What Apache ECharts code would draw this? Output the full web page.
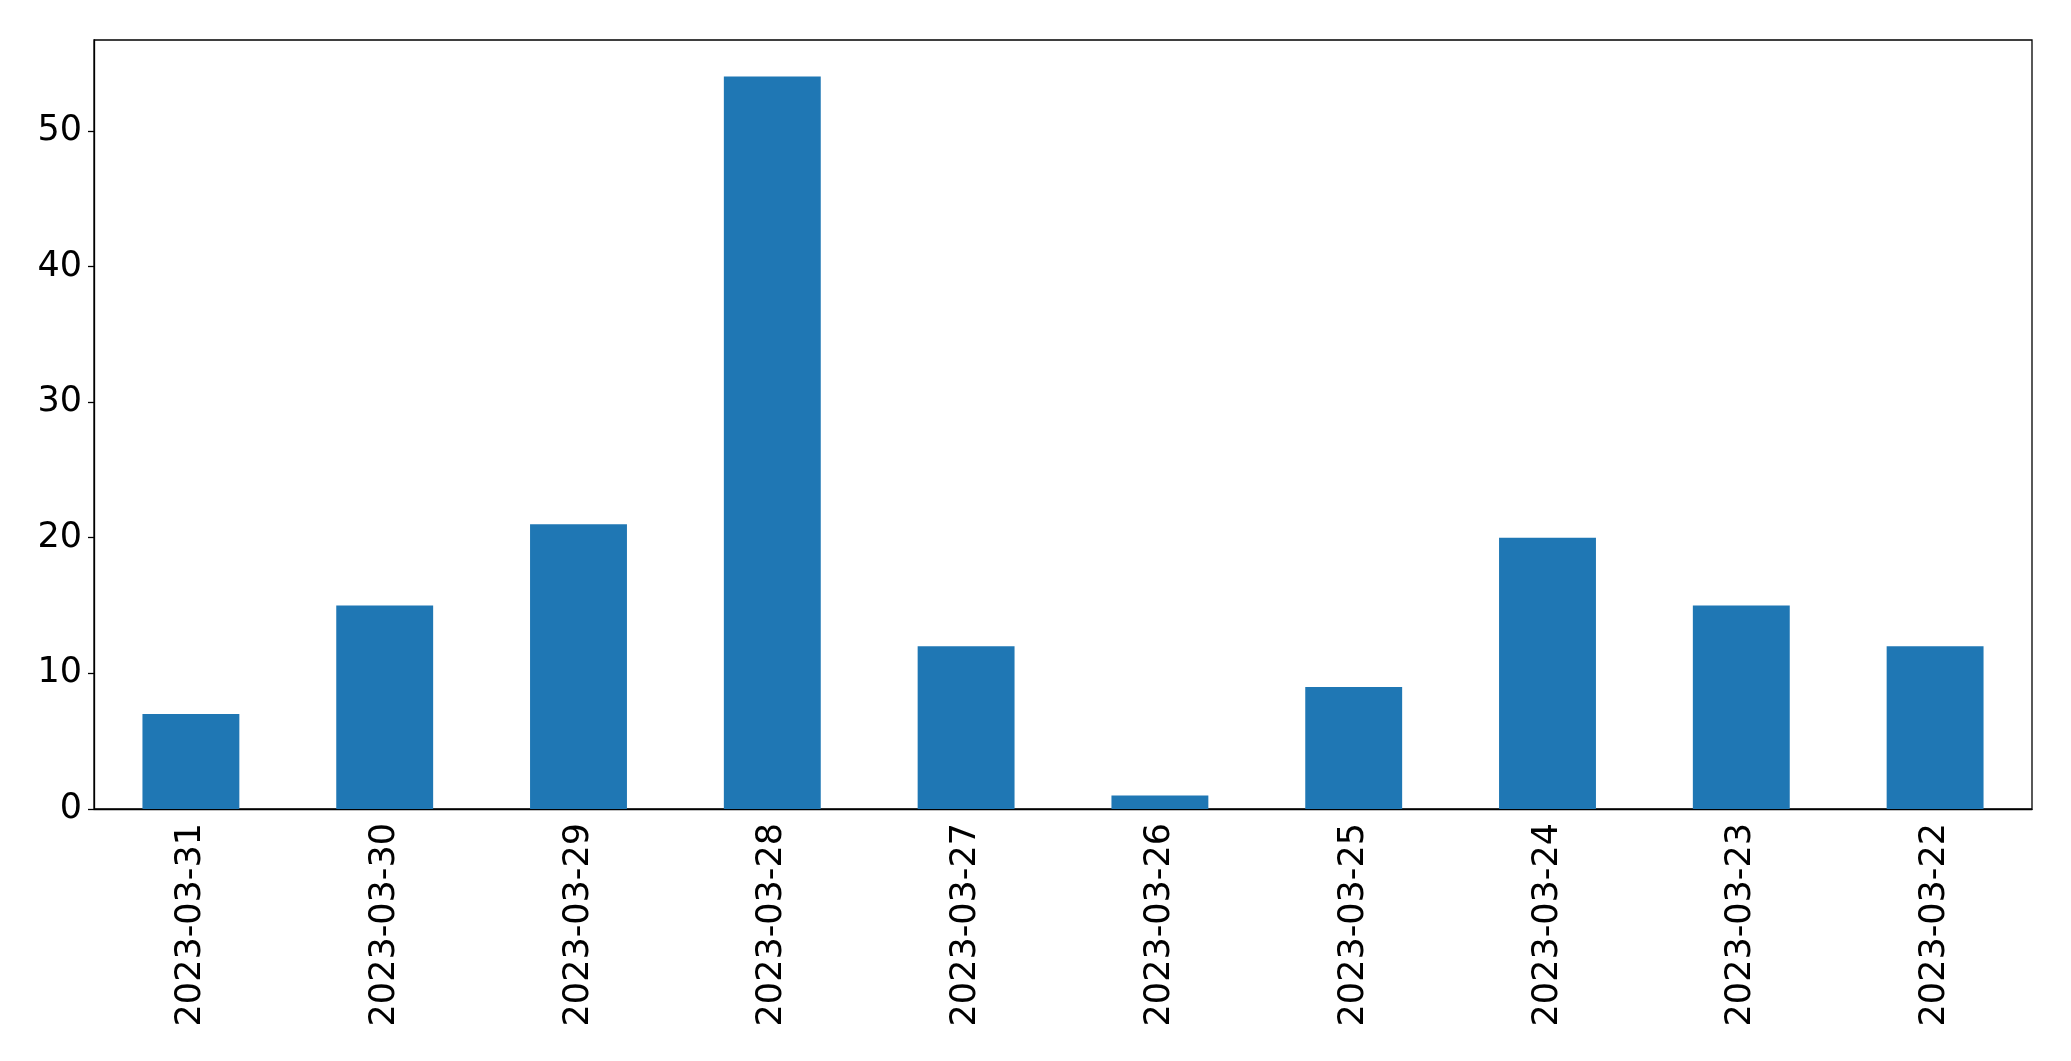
<!DOCTYPE html>
<html><head><meta charset="utf-8">
<script src="https://cdn.jsdelivr.net/npm/echarts@6/dist/echarts.min.js"></script>
<style>html,body{margin:0;padding:0;background:#fff}#c{width:2071px;height:1061px}</style>
</head><body><div id="c"></div>
<script>
const categories = ['2023-03-31','2023-03-30','2023-03-29','2023-03-28','2023-03-27','2023-03-26','2023-03-25','2023-03-24','2023-03-23','2023-03-22'];
const values = [7, 15, 21, 54, 12, 1, 9, 20, 15, 12];
const yTicks = [0, 10, 20, 30, 40, 50];
const yMax = 56.7;

const chart = echarts.init(document.getElementById('c'), null, {renderer: 'canvas'});
const font = {fontFamily: 'DejaVu Sans', fontSize: 35, color: '#000'};
chart.setOption({
  animation: false,
  grid: {left: 94, right: 39, top: 40, bottom: 252, show: true, borderColor: '#000', borderWidth: 1.3, backgroundColor: 'transparent'},
  xAxis: {
    type: 'category', data: categories, boundaryGap: true,
    axisLine: {lineStyle: {color: '#000', width: 1.3}},
    axisTick: {alignWithLabel: true, length: 6, lineStyle: {color: '#000', width: 1.3}},
    axisLabel: Object.assign({rotate: 90, margin: 14, interval: 0}, font),
    splitLine: {show: false}
  },
  yAxis: {
    type: 'value', min: 0, max: yMax,
    axisLine: {show: true, lineStyle: {color: '#000', width: 1.3}},
    axisTick: {show: true, length: 6, customValues: yTicks, lineStyle: {color: '#000', width: 1.3}},
    axisLabel: Object.assign({margin: 12, customValues: yTicks}, font),
    splitLine: {show: false}
  },
  series: [{type: 'bar', data: values, barWidth: '50%', itemStyle: {color: '#1f77b4'}}]
});
</script></body></html>
